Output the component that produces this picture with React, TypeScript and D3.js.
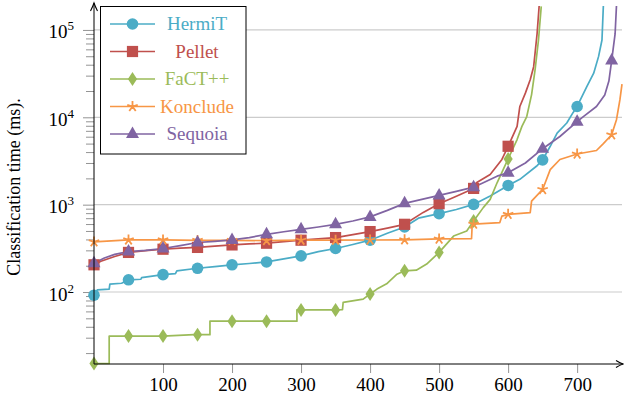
import { FC, useEffect, useRef } from "react";
import * as d3 from "d3";

type Pt = [number, number];

const hermit: Pt[] = [
    [0, 92], [5, 106], [22, 108], [23, 123], [40, 126], [50, 138], [68, 140], [69, 146],
    [100, 158], [118, 162], [120, 175], [150, 187], [175, 195], [200, 205], [225, 212],
    [250, 221], [275, 240], [300, 259], [325, 290], [350, 315], [375, 350], [400, 392],
    [425, 470], [450, 556], [470, 700], [500, 789], [525, 880], [550, 1007], [574, 1260],
    [600, 1660], [617, 1950], [641, 2750], [650, 3260], [661, 4660], [671, 6600],
    [685, 8600], [694, 11300], [700, 13300], [714, 22400], [724, 32000], [731, 49500],
    [736, 76700], [738, 190000],
];

const pellet: Pt[] = [
    [0, 205], [10, 225], [30, 255], [50, 284], [75, 298], [100, 309], [125, 318], [150, 324],
    [175, 335], [200, 346], [225, 355], [250, 362], [275, 378], [300, 392], [325, 405],
    [350, 420], [375, 455], [400, 492], [425, 540], [450, 596], [477, 816], [500, 1026],
    [525, 1250], [550, 1535], [554, 1780], [574, 2210], [591, 3290], [600, 4660],
    [613, 7870], [617, 13300], [625, 18900], [632, 26900], [637, 38000], [642, 91000],
    [645, 190000],
];

const fact: Pt[] = [
    [0, 15.2], [22, 15.2], [22, 31.3], [50, 31.3], [100, 31.3], [145, 32.5], [150, 32.5],
    [168, 32.5], [168, 46.4], [200, 46.4], [250, 46.4], [294, 46.4], [294, 62.4],
    [300, 62.4], [350, 62.4], [360, 63], [361, 76], [390, 83], [400, 95], [410, 108],
    [424, 124], [439, 160], [450, 175], [467, 178], [482, 209], [500, 284], [521, 437],
    [540, 500], [550, 650], [564, 925], [574, 1150], [584, 1780], [600, 3340], [613, 5560],
    [620, 7870], [627, 10200], [634, 18200], [639, 34700], [644, 76700], [648, 186000],
];

const konclude: Pt[] = [
    [0, 375], [50, 395], [100, 395], [150, 390], [200, 390], [250, 388], [300, 392],
    [350, 392], [400, 394], [450, 396], [500, 405], [547, 409], [548, 596], [550, 600],
    [588, 624], [591, 740], [600, 775], [632, 810], [634, 1100], [650, 1493], [661, 2520],
    [675, 3290], [700, 3800], [728, 4170], [738, 5000], [750, 6310], [757, 9400],
    [762, 15900], [765, 24000],
];

const sequoia: Pt[] = [
    [0, 214], [15, 245], [30, 270], [50, 291], [75, 300], [100, 315], [125, 340],
    [150, 369], [175, 380], [200, 395], [225, 420], [250, 458], [275, 490], [300, 522],
    [325, 555], [350, 596], [375, 650], [400, 724], [425, 860], [450, 1035], [475, 1150],
    [500, 1277], [525, 1420], [550, 1585], [564, 1780], [584, 2120], [600, 2320],
    [625, 3000], [650, 4370], [675, 6030], [700, 8900], [709, 10200], [728, 13300],
    [740, 18000], [746, 26000], [750, 44600], [755, 90000], [757, 190000],
];

const names = ["HermiT", "Pellet", "FaCT++", "Konclude", "Sequoia"];
const colors = ["#4bacc6", "#c0504d", "#9bbb59", "#f79646", "#8064a2"];
const markerKinds = ["circle", "square", "diamond", "star", "triangle"];
const seriesData = [hermit, pellet, fact, konclude, sequoia];
const markerMax = [700, 600, 600, 750, 750];

const xTicks = [100, 200, 300, 400, 500, 600, 700];
const yMajor = [100, 1000, 10000, 100000];

const W = 624;
const H = 407;
const FONT = "'Liberation Serif', 'Times New Roman', serif";

const drawMarker = (
    g: d3.Selection<SVGGElement, unknown, null, undefined>,
    kind: string,
    cx: number,
    cy: number,
    color: string
) => {
    if (kind === "circle") {
        g.append("circle").attr("cx", cx).attr("cy", cy).attr("r", 5.8).attr("fill", color);
    } else if (kind === "square") {
        g.append("rect").attr("x", cx - 5.6).attr("y", cy - 5.6).attr("width", 11.2).attr("height", 11.2).attr("fill", color);
    } else if (kind === "diamond") {
        g.append("path").attr("d", `M${cx},${cy - 7}L${cx + 4.6},${cy}L${cx},${cy + 7}L${cx - 4.6},${cy}Z`).attr("fill", color);
    } else if (kind === "triangle") {
        g.append("path").attr("d", `M${cx},${cy - 7.5}L${cx + 6.5},${cy + 4}L${cx - 6.5},${cy + 4}Z`).attr("fill", color);
    } else {
        const r = 5.5;
        let d = "";
        for (let i = 0; i < 5; i++) {
            const a = -Math.PI / 2 + (i * 2 * Math.PI) / 5;
            d += `M${cx},${cy}L${cx + r * Math.cos(a)},${cy + r * Math.sin(a)}`;
        }
        g.append("path").attr("d", d).attr("stroke", color).attr("stroke-width", 1.8).attr("fill", "none");
    }
};

const CactusChart: FC = () => {
    const svgRef = useRef<SVGSVGElement>(null);

    useEffect(() => {
        if (!svgRef.current) return;
        const svg = d3.select(svgRef.current);

        const left = 94;
        const right = 622;
        const top = 6;
        const bottom = 364;

        const x = d3.scaleLinear([0, 765], [left, right]);
        const y = d3.scaleLog([15, 188000], [bottom, top]);

        svg.append("defs")
            .append("clipPath")
            .attr("id", "plot-clip")
            .append("rect")
            .attr("x", left - 10)
            .attr("y", top)
            .attr("width", right - left + 12)
            .attr("height", bottom - top + 20);

        // grid
        svg.append("g")
            .selectAll("line")
            .data(yMajor)
            .join("line")
            .attr("x1", left)
            .attr("x2", right)
            .attr("y1", (d) => y(d))
            .attr("y2", (d) => y(d))
            .attr("stroke", "#cccccc")
            .attr("stroke-width", 1.2);

        // y ticks (major + minor)
        const minor: number[] = [];
        for (let e = 1; e <= 5; e++) {
            for (let m = 2; m <= 9; m++) {
                const v = m * Math.pow(10, e);
                if (v >= 15 && v <= 188000) minor.push(v);
            }
        }
        svg.append("g")
            .attr("transform", `translate(${left},0)`)
            .call(d3.axisLeft(y).tickValues(minor).tickSize(8).tickFormat(() => ""))
            .call((g) => g.select(".domain").remove())
            .call((g) => g.selectAll(".tick line").attr("stroke", "#888").attr("stroke-width", 0.9));
        const yAxis = svg.append("g")
            .attr("transform", `translate(${left},0)`)
            .call(d3.axisLeft(y).tickValues(yMajor).tickSize(11).tickFormat(() => ""))
            .call((g) => g.select(".domain").remove())
            .call((g) => g.selectAll(".tick line").attr("stroke", "#888").attr("stroke-width", 0.9));
        yAxis.selectAll<SVGGElement, number>(".tick").each(function (d) {
            const t = d3.select(this)
                .append("text")
                .attr("x", -20)
                .attr("y", 8)
                .attr("text-anchor", "end")
                .attr("fill", "#000")
                .style("font-family", FONT)
                .style("font-size", "19px");
            t.append("tspan").text("10");
            t.append("tspan")
                .attr("dy", -8)
                .style("font-size", "13px")
                .text(String(Math.round(Math.log10(d))));
        });

        // x ticks
        svg.append("g")
            .attr("transform", `translate(0,${bottom})`)
            .call(d3.axisBottom(x).tickValues(xTicks).tickSize(9).tickPadding(5).tickFormat(d3.format("d")))
            .call((g) => g.select(".domain").remove())
            .call((g) => g.selectAll(".tick line").attr("stroke", "#888").attr("stroke-width", 0.9))
            .call((g) =>
                g.selectAll(".tick text")
                    .attr("fill", "#000")
                    .style("font-family", FONT)
                    .style("font-size", "19px")
            );

        // series lines (clipped at the top of the plot)
        const line = d3.line<Pt>().x((d) => x(d[0])).y((d) => y(d[1]));
        const plot = svg.append("g").attr("clip-path", "url(#plot-clip)");
        seriesData.forEach((data, i) => {
            plot.append("path")
                .attr("d", line(data))
                .attr("fill", "none")
                .attr("stroke", colors[i])
                .attr("stroke-width", 1.7)
                .attr("stroke-linejoin", "round");
        });
        const marks = svg.append("g");
        seriesData.forEach((data, i) => {
            const mg = marks.append("g");
            data.filter((d) => d[0] % 50 === 0 && d[0] <= markerMax[i])
                .forEach((d) => drawMarker(mg, markerKinds[i], x(d[0]), y(d[1]), colors[i]));
        });

        // axis lines with arrows
        const axes = svg.append("g").attr("stroke", "#000").attr("stroke-width", 1);
        axes.append("line").attr("x1", left).attr("x2", left).attr("y1", bottom).attr("y2", 3);
        axes.append("line").attr("x1", left).attr("x2", 623).attr("y1", bottom).attr("y2", bottom);
        axes.append("path").attr("d", `M${left - 3.5},11 Q${left - 1},6 ${left},3 Q${left + 1},6 ${left + 3.5},11`).attr("fill", "none").attr("stroke-width", 1.1);
        axes.append("path").attr("d", `M616,${bottom - 3.5} Q620,${bottom - 1} 623,${bottom} Q620,${bottom + 1} 616,${bottom + 3.5}`).attr("fill", "none").attr("stroke-width", 1.1);

        // y title
        svg.append("text")
            .attr("transform", `translate(20,187) rotate(-90)`)
            .attr("text-anchor", "middle")
            .attr("fill", "#000")
            .style("font-family", FONT)
            .style("font-size", "18px")
            .text("Classification time (ms).");

        // legend
        const lg = svg.append("g");
        lg.append("rect")
            .attr("x", 100.5)
            .attr("y", 6.5)
            .attr("width", 145.5)
            .attr("height", 147.5)
            .attr("fill", "#fff")
            .attr("stroke", "#000")
            .attr("stroke-width", 1);
        names.forEach((name, i) => {
            const cy = 24 + i * 27.5;
            lg.append("line")
                .attr("x1", 110)
                .attr("x2", 155)
                .attr("y1", cy)
                .attr("y2", cy)
                .attr("stroke", colors[i])
                .attr("stroke-width", 1.7);
            drawMarker(lg, markerKinds[i], 132.5, cy, colors[i]);
            lg.append("text")
                .attr("x", 197)
                .attr("y", cy + 6)
                .attr("text-anchor", "middle")
                .attr("fill", colors[i])
                .style("font-family", FONT)
                .style("font-size", "19px")
                .text(name);
        });

        return () => {
            svg.selectAll("*").remove();
        };
    }, []);

    return (
        <svg
            ref={svgRef}
            width={W}
            height={H}
            viewBox={`0 0 ${W} ${H}`}
            style={{ position: "absolute", left: 0, top: 0, background: "#fff" }}
        />
    );
};

export default function App() {
    return <CactusChart />;
}
